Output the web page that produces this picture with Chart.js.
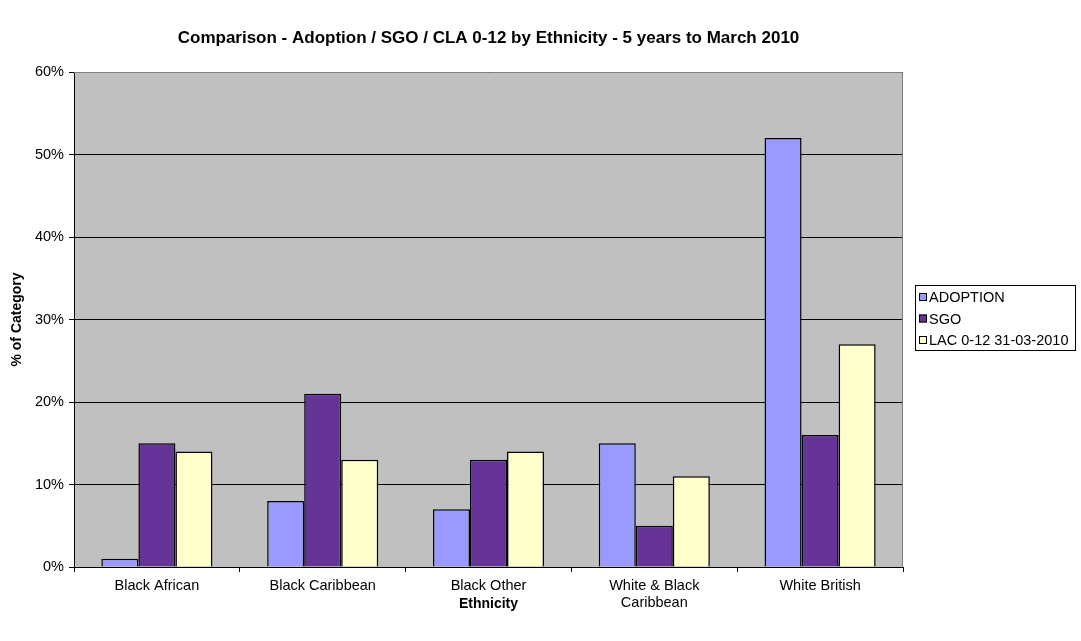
<!DOCTYPE html>
<html>
<head>
<meta charset="utf-8">
<script src="https://cdn.jsdelivr.net/npm/chart.js@4/dist/chart.umd.min.js"></script>
<style>
  html, body { margin: 0; padding: 0; background: #fff; }
  #wrap { width: 1081px; height: 641px; position: relative; }
</style>
</head>
<body>
<div id="wrap"><canvas id="c" width="1081" height="641"></canvas></div>
<script>
const categories = ['Black African', 'Black Caribbean', 'Black Other', ['White & Black', 'Caribbean'], 'White British'];
const adoption = [1, 8, 7, 15, 52];
const sgo = [15, 21, 13, 5, 16];
const lac = [14, 13, 14, 11, 27];
const seriesNames = ['ADOPTION', 'SGO', 'LAC 0-12 31-03-2010'];
const seriesColors = ['#9999FF', '#663399', '#FFFFCC'];
const titleText = 'Comparison - Adoption / SGO / CLA 0-12 by Ethnicity - 5 years to March 2010';

const FONT = 'Arial, "Liberation Sans", sans-serif';
const TEXT_SIZE = 14.5;
const AXIS_TITLE_SIZE = 14;
const TITLE_SIZE = 17;

// Grey plot background, frame, title and legend box
const decor = {
  id: 'decor',
  beforeDraw(chart) {
    const { ctx, chartArea: a } = chart;
    ctx.save();
    ctx.fillStyle = '#C0C0C0';
    ctx.fillRect(a.left, a.top, a.right - a.left, a.bottom - a.top);
    ctx.restore();
  },
  afterDraw(chart) {
    const { ctx, chartArea: a } = chart;
    ctx.save();
    // frame (top and right)
    ctx.strokeStyle = '#808080';
    ctx.lineWidth = 1;
    ctx.beginPath();
    ctx.moveTo(a.left, a.top + 0.5);
    ctx.lineTo(a.right - 0.5, a.top + 0.5);
    ctx.lineTo(a.right - 0.5, a.bottom);
    ctx.stroke();

    // title
    ctx.fillStyle = '#000';
    ctx.font = 'bold ' + TITLE_SIZE + 'px ' + FONT;
    ctx.textAlign = 'center';
    ctx.textBaseline = 'middle';
    ctx.fillText(titleText, (a.left + a.right) / 2, 38);

    // legend
    const lx = 915, ly = 285, lw = 160, lh = 65;
    ctx.strokeStyle = '#000';
    ctx.lineWidth = 1;
    ctx.strokeRect(lx + 0.5, ly + 0.5, lw, lh);
    ctx.font = TEXT_SIZE + 'px ' + FONT;
    ctx.textAlign = 'left';
    seriesNames.forEach((name, i) => {
      const y = ly + 12 + i * 21.5;
      ctx.fillStyle = seriesColors[i];
      ctx.fillRect(lx + 4, y - 4, 8, 8);
      ctx.strokeStyle = '#000';
      ctx.strokeRect(lx + 4.5, y - 3.5, 7, 7);
      ctx.fillStyle = '#000';
      ctx.fillText(name, lx + 14, y + 1);
    });
    ctx.restore();
  }
};

new Chart(document.getElementById('c'), {
  type: 'bar',
  data: {
    labels: categories,
    datasets: [
      { label: seriesNames[0], data: adoption, backgroundColor: seriesColors[0] },
      { label: seriesNames[1], data: sgo, backgroundColor: seriesColors[1] },
      { label: seriesNames[2], data: lac, backgroundColor: seriesColors[2] }
    ].map(d => Object.assign(d, { borderColor: '#000', borderWidth: 1.5, categoryPercentage: 0.67, barPercentage: 1.0 }))
  },
  options: {
    responsive: false,
    animation: false,
    devicePixelRatio: 1,
    layout: { padding: { left: 0, top: 72, right: 178, bottom: 0 } },
    plugins: { legend: { display: false }, title: { display: false }, tooltip: { enabled: false } },
    scales: {
      x: {
        afterFit(s) { s.height = 74; },
        grid: { display: true, drawOnChartArea: false, offset: true, tickLength: 5, color: '#000' },
        border: { display: true, color: '#000', width: 1 },
        ticks: { color: '#000', font: { family: FONT, size: TEXT_SIZE, lineHeight: 1.15 }, padding: 6, maxRotation: 0, autoSkip: false },
        title: { display: true, text: 'Ethnicity', color: '#000', font: { family: FONT, size: AXIS_TITLE_SIZE, weight: 'bold' }, padding: { top: 0, bottom: 28 } }
      },
      y: {
        min: 0, max: 60,
        afterFit(s) { s.width = 74; },
        grid: { color: '#000', lineWidth: 1, tickLength: 5, drawTicks: true },
        border: { display: true, color: '#000', width: 1 },
        ticks: { stepSize: 10, color: '#000', font: { family: FONT, size: TEXT_SIZE }, padding: 5, callback: v => v + '%' },
        title: { display: true, text: '% of Category', color: '#000', font: { family: FONT, size: AXIS_TITLE_SIZE, weight: 'bold' }, padding: { top: 9, bottom: 0 } }
      }
    }
  },
  plugins: [decor]
});
</script>
</body>
</html>
